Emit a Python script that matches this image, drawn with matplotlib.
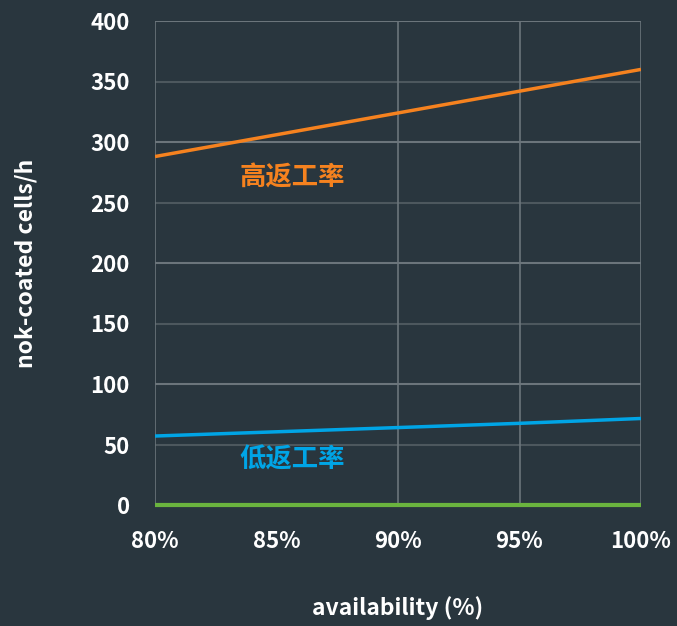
import matplotlib
matplotlib.use("Agg")
import matplotlib.pyplot as plt
from matplotlib.ticker import FuncFormatter

plt.rcParams['font.family'] = ['Noto Sans CJK SC', 'DejaVu Sans']

availability = [80, 85, 90, 95, 100]
high_rework = [288, 306, 324, 342, 360]
low_rework = [57, 60.5, 64, 67.5, 71.5]
zero_line = [0, 0, 0, 0, 0]
y_ticks = [0, 50, 100, 150, 200, 250, 300, 350, 400]
x_ticks = [80, 85, 90, 95, 100]
label_high = "高返工率"
label_low = "低返工率"

bg = '#29363e'
grid_major = '#6b757b'
grid_minor = '#4d585e'
orange = '#f5821f'
blue = '#00a5e6'
green = '#6ab43e'

fig = plt.figure(figsize=(6.77, 6.26), dpi=100, facecolor=bg)
ax = fig.add_axes([155/677, 1-505/626, (641-155)/677, (505-21)/626], facecolor=bg)

ax.set_xlim(80, 100)
ax.set_ylim(0, 400)

for y in y_ticks:
    c = grid_major if y % 100 == 0 else grid_minor
    ax.axhline(y, color=c, lw=1.5, zorder=1)
for x in x_ticks:
    if x == 85:
        continue
    ax.axvline(x, color=grid_major, lw=1.2, zorder=1)

ax.plot(availability, high_rework, color=orange, lw=2.5, zorder=3, solid_capstyle='butt')
ax.plot(availability, low_rework, color=blue, lw=2.5, zorder=3, solid_capstyle='butt')
ax.plot(availability, zero_line, color=green, lw=3, zorder=3, solid_capstyle='butt', clip_on=False)

ax.text(85.65, 270, label_high, color=orange, fontsize=19, fontweight='bold', ha='center', va='center')
ax.text(85.65, 37.5, label_low, color=blue, fontsize=19, fontweight='bold', ha='center', va='center')

for s in ax.spines.values():
    s.set_visible(False)

ax.set_xticks(x_ticks)
ax.set_yticks(y_ticks)
ax.xaxis.set_major_formatter(FuncFormatter(lambda v, p: f"{int(v)}%"))
ax.tick_params(axis='both', length=0, colors='white', labelsize=16)
ax.tick_params(axis='y', pad=18)
ax.tick_params(axis='x', pad=18)
for lab in ax.get_xticklabels() + ax.get_yticklabels():
    lab.set_fontweight('bold')

ax.set_xlabel("availability (%)", color='white', fontsize=16.5, fontweight='bold', labelpad=31)
ax.set_ylabel("nok-coated cells/h", color='white', fontsize=16.5, fontweight='bold', labelpad=38)

fig.savefig("out.png", dpi=100, facecolor=bg)
